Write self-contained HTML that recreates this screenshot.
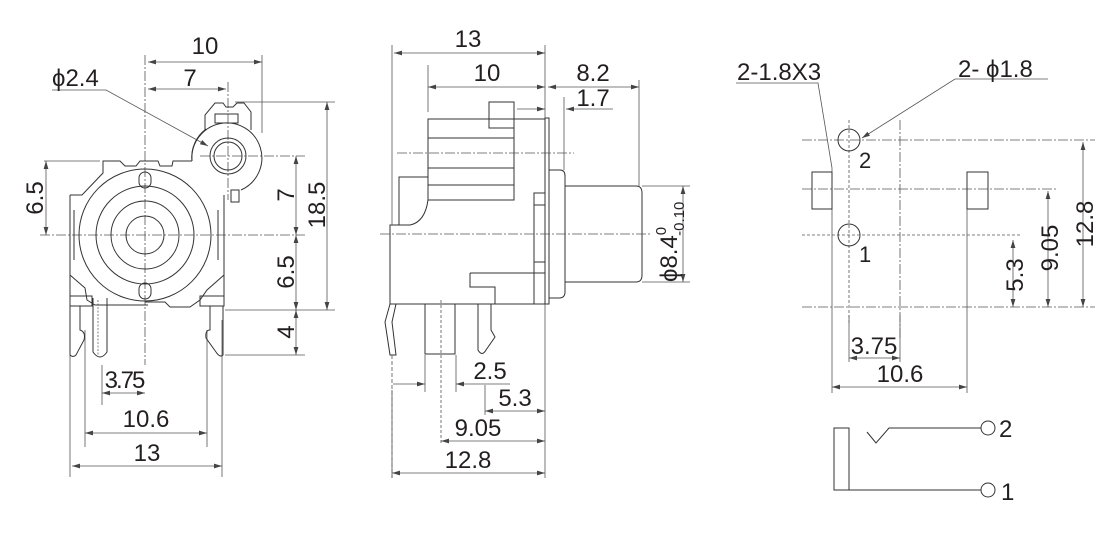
<!DOCTYPE html>
<html><head><meta charset="utf-8"><style>
html,body{margin:0;padding:0;background:#fff;}
svg{display:block;}
text{font-family:"Liberation Sans",Arial,sans-serif;fill:#231f20;}
</style></head><body>
<svg width="1120" height="534" viewBox="0 0 1120 534" xmlns="http://www.w3.org/2000/svg">
<defs>
<marker id="a" viewBox="0 0 10 6" refX="10" refY="3" markerWidth="8" markerHeight="5" orient="auto-start-reverse" markerUnits="userSpaceOnUse"><path d="M0,0L10,3L0,6z" fill="#444"/></marker>
</defs>
<g fill="none" stroke="#555" stroke-width="0.8">
<line x1="145" y1="55" x2="145" y2="365" stroke-dasharray="10,2,2,2"/>
<line x1="40" y1="235" x2="305" y2="235" stroke-dasharray="10,2,2,2"/>
<line x1="228" y1="82" x2="228" y2="200" stroke-dasharray="10,2,2,2"/>
<line x1="200" y1="156" x2="305" y2="156" stroke-dasharray="10,2,2,2"/>
<line x1="262" y1="55" x2="262" y2="133"/>
<line x1="148" y1="62" x2="262" y2="62" marker-start="url(#a)" marker-end="url(#a)"/>
<line x1="148" y1="89" x2="226" y2="89" marker-start="url(#a)" marker-end="url(#a)"/>
<polyline points="52,90 106,90 208,146" marker-end="url(#a)"/>
<line x1="44" y1="161" x2="100" y2="161"/>
<line x1="46" y1="161" x2="46" y2="235" marker-start="url(#a)" marker-end="url(#a)"/>
<line x1="235" y1="102" x2="335" y2="102"/>
<line x1="225" y1="310" x2="335" y2="310"/>
<line x1="225" y1="355" x2="305" y2="355"/>
<line x1="296" y1="156" x2="296" y2="235" marker-start="url(#a)" marker-end="url(#a)"/>
<line x1="296" y1="235" x2="296" y2="310" marker-start="url(#a)" marker-end="url(#a)"/>
<line x1="296" y1="310" x2="296" y2="355" marker-start="url(#a)" marker-end="url(#a)"/>
<line x1="327" y1="102" x2="327" y2="310" marker-start="url(#a)" marker-end="url(#a)"/>
<line x1="70" y1="320" x2="70" y2="477"/>
<line x1="222" y1="320" x2="222" y2="477"/>
<line x1="85" y1="330" x2="85" y2="447"/>
<line x1="207" y1="330" x2="207" y2="447"/>
<line x1="102" y1="365" x2="102" y2="405"/>
<line x1="72" y1="466" x2="222" y2="466" marker-start="url(#a)" marker-end="url(#a)"/>
<line x1="85" y1="433" x2="207" y2="433" marker-start="url(#a)" marker-end="url(#a)"/>
<line x1="102" y1="393" x2="145" y2="393" marker-start="url(#a)" marker-end="url(#a)"/>
</g>
<g fill="none" stroke="#333" stroke-width="1">
<polyline points="205,130 205,115 215,103 223,103 226,107 233,107 237,103 244,103 251,112 251,130"/>
<rect x="215" y="114" width="23" height="9"/>
<circle cx="228" cy="156" r="18"/>
<circle cx="228" cy="156" r="14"/>
<path d="M192,161 A35,35 0 1 1 241,190"/>
<path d="M192,161 A35,35 0 0 1 206,129"/>
<rect x="231" y="190" width="8" height="12"/>
<polyline points="70,195 82,195 103,173 103,161 120,161 125,166 136,166 140,161 158,161 160,166 172,166 173,161 192,161"/>
<polyline points="70,195 70,305"/>
<polyline points="224,195 224,305"/>
<polyline points="70,275 85,288 87,300 95,305 148,305"/>
<polyline points="224,275 207,290 200,300 190,307 170,307 165,302 145,302"/>
<line x1="74" y1="210" x2="74" y2="260"/>
<line x1="218" y1="210" x2="218" y2="260"/>
<circle cx="145" cy="235" r="66"/>
<circle cx="145" cy="235" r="49"/>
<circle cx="145" cy="235" r="34"/>
<circle cx="145" cy="235" r="19"/>
<rect x="139" y="172" width="12" height="16" rx="6"/>
<rect x="139" y="283" width="12" height="16" rx="6"/>
<rect x="70" y="296" width="22" height="10"/>
<rect x="200" y="296" width="24" height="10"/>
<path d="M70,306 V355 Q73,358 76,355 L84,340 Q86,332 80,330 V306"/>
<path d="M93,298 V352 Q100,362 107,352 V298"/>
<path d="M223,306 V355 Q220,358 216,352 L206,338 Q205,330 210,330 V306"/>
<line x1="98" y1="300" x2="98" y2="356" stroke-dasharray="2,1.5" stroke-width="0.6"/>

<rect x="428" y="119" width="86" height="81"/>
<line x1="428" y1="138" x2="514" y2="138"/>
<line x1="428" y1="168" x2="514" y2="168"/>
<line x1="428" y1="185" x2="514" y2="185"/>
<rect x="489" y="102" width="25" height="26"/>
<line x1="514" y1="119" x2="545" y2="119"/>
<rect x="545" y="118" width="4" height="186"/>
<rect x="534" y="193" width="11" height="111"/>
<line x1="534" y1="205" x2="545" y2="205"/>
<line x1="534" y1="262" x2="545" y2="262"/>
<path d="M549,170 H560 Q565,170 565,176 V292 Q565,298 559,298 H549"/>
<path d="M565,186 H636 Q642,186 642,193 V275 Q642,282 636,282 H565"/>
<polyline points="428,177 399,177 399,225"/>
<path d="M428,200 Q425,222 410,225 H390 V304 H545"/>
<polyline points="470,273 545,273"/>
<polyline points="470,273 470,287 495,287 495,304"/>
<path d="M390,304 L385,322 L390,355 L396,355 L392,322 L396,304"/>
<rect x="425" y="304" width="30" height="50"/>
<path d="M478,304 V350 Q482,357 486,350 L495,337 L491,330 V304"/>
</g>
<g fill="none" stroke="#555" stroke-width="0.8">
<line x1="397" y1="153" x2="574" y2="153" stroke-dasharray="10,2,2,2"/>
<line x1="380" y1="234" x2="652" y2="234" stroke-dasharray="10,2,2,2"/>
<line x1="392" y1="45" x2="392" y2="225"/>
<line x1="428" y1="65" x2="428" y2="112"/>
<line x1="545" y1="45" x2="545" y2="118"/>
<line x1="639" y1="80" x2="639" y2="186"/>
<line x1="564" y1="97" x2="564" y2="170"/>
<line x1="394" y1="53" x2="545" y2="53" marker-start="url(#a)" marker-end="url(#a)"/>
<line x1="428" y1="87" x2="545" y2="87" marker-start="url(#a)" marker-end="url(#a)"/>
<line x1="548" y1="87" x2="639" y2="87" marker-start="url(#a)" marker-end="url(#a)"/>
<line x1="517" y1="109" x2="545" y2="109" marker-end="url(#a)"/>
<line x1="613" y1="109" x2="566" y2="109" marker-end="url(#a)"/>
<line x1="642" y1="186" x2="690" y2="186"/>
<line x1="642" y1="282" x2="690" y2="282"/>
<line x1="683" y1="186" x2="683" y2="282" marker-start="url(#a)" marker-end="url(#a)"/>
<line x1="392" y1="355" x2="392" y2="478" stroke-dasharray="4,2"/>
<line x1="392" y1="390" x2="392" y2="478"/>
<line x1="425" y1="355" x2="425" y2="392"/>
<line x1="456" y1="355" x2="456" y2="392"/>
<line x1="441" y1="300" x2="441" y2="445" stroke-dasharray="3,2"/>
<line x1="485" y1="385" x2="485" y2="415"/>
<line x1="545" y1="304" x2="545" y2="478"/>
<line x1="393" y1="384" x2="425" y2="384" marker-end="url(#a)"/>
<line x1="510" y1="384" x2="456" y2="384" marker-end="url(#a)"/>
<line x1="485" y1="411" x2="545" y2="411" marker-start="url(#a)" marker-end="url(#a)"/>
<line x1="441" y1="441" x2="545" y2="441" marker-start="url(#a)" marker-end="url(#a)"/>
<line x1="392" y1="473" x2="545" y2="473" marker-start="url(#a)" marker-end="url(#a)"/>

<line x1="802" y1="140" x2="1095" y2="140" stroke-dasharray="10,2,2,2"/>
<line x1="802" y1="189" x2="1058" y2="189" stroke-dasharray="10,2,2,2"/>
<line x1="802" y1="235" x2="1020" y2="235" stroke-dasharray="3,2"/>
<line x1="802" y1="307" x2="1095" y2="307" stroke-dasharray="10,2,2,2"/>
<line x1="849" y1="120" x2="849" y2="325" stroke-dasharray="3,2"/>
<line x1="900" y1="120" x2="900" y2="340" stroke-dasharray="10,2,2,2"/>
<line x1="832" y1="168" x2="832" y2="393"/>
<line x1="967" y1="209" x2="967" y2="393"/>
<line x1="849" y1="315" x2="849" y2="362"/>
<line x1="900" y1="315" x2="900" y2="362"/>
<line x1="1083" y1="142" x2="1083" y2="307" marker-start="url(#a)" marker-end="url(#a)"/>
<line x1="1048" y1="191" x2="1048" y2="307" marker-start="url(#a)" marker-end="url(#a)"/>
<line x1="1013" y1="240" x2="1013" y2="307" marker-start="url(#a)" marker-end="url(#a)"/>
<line x1="849" y1="358" x2="900" y2="358" marker-start="url(#a)" marker-end="url(#a)"/>
<line x1="832" y1="387" x2="967" y2="387" marker-start="url(#a)" marker-end="url(#a)"/>
<polyline points="736,83 818,83 832,168"/>
<polyline points="1048,79 955,79 862,138" marker-end="url(#a)"/>
</g>
<g fill="none" stroke="#333" stroke-width="1">
<circle cx="849" cy="140" r="11"/>
<circle cx="849" cy="235" r="11"/>
<rect x="812" y="172" width="20" height="37"/>
<rect x="967" y="172" width="21" height="37"/>
<rect x="834" y="428" width="15" height="62"/>
<line x1="849" y1="490" x2="981" y2="490"/>
<circle cx="988" cy="490" r="7"/>
<polyline points="867,432 876,443 889,428 981,428"/>
<circle cx="988" cy="428" r="7"/>
</g>

<g font-size="24">
<text x="205" y="54" text-anchor="middle">10</text>
<text x="190" y="86" text-anchor="middle">7</text>
<text x="52" y="86">ϕ2.4</text>
<text transform="translate(43,198) rotate(-90)" text-anchor="middle">6.5</text>
<text transform="translate(294,195) rotate(-90)" text-anchor="middle">7</text>
<text transform="translate(325,205) rotate(-90)" text-anchor="middle">18.5</text>
<text transform="translate(294,272) rotate(-90)" text-anchor="middle">6.5</text>
<text transform="translate(294,332) rotate(-90)" text-anchor="middle">4</text>
<text x="124" y="388" text-anchor="middle" letter-spacing="-2">3.75</text>
<text x="146" y="427" text-anchor="middle">10.6</text>
<text x="147" y="461" text-anchor="middle">13</text>

<text x="468" y="47" text-anchor="middle">13</text>
<text x="487" y="81" text-anchor="middle">10</text>
<text x="593" y="81" text-anchor="middle">8.2</text>
<text x="593" y="106" text-anchor="middle">1.7</text>
<text transform="translate(677,282) rotate(-90)">ϕ8.4<tspan font-size="15" dy="-11">0</tspan><tspan font-size="15" dx="-9" dy="18">-0.10</tspan></text>
<text x="490" y="379" text-anchor="middle">2.5</text>
<text x="515" y="406" text-anchor="middle">5.3</text>
<text x="478" y="436" text-anchor="middle">9.05</text>
<text x="468" y="468" text-anchor="middle">12.8</text>

<text x="737" y="80">2-1.8X3</text>
<text x="958" y="77">2- ϕ1.8</text>
<text x="859" y="168" font-size="22">2</text>
<text x="859" y="262" font-size="22">1</text>
<text transform="translate(1093,224) rotate(-90)" text-anchor="middle">12.8</text>
<text transform="translate(1058,248) rotate(-90)" text-anchor="middle">9.05</text>
<text transform="translate(1023,275) rotate(-90)" text-anchor="middle">5.3</text>
<text x="874" y="354" text-anchor="middle">3.75</text>
<text x="900" y="382" text-anchor="middle">10.6</text>
<text x="999" y="437">2</text>
<text x="1001" y="500">1</text>
</g>
</svg>
</body></html>
